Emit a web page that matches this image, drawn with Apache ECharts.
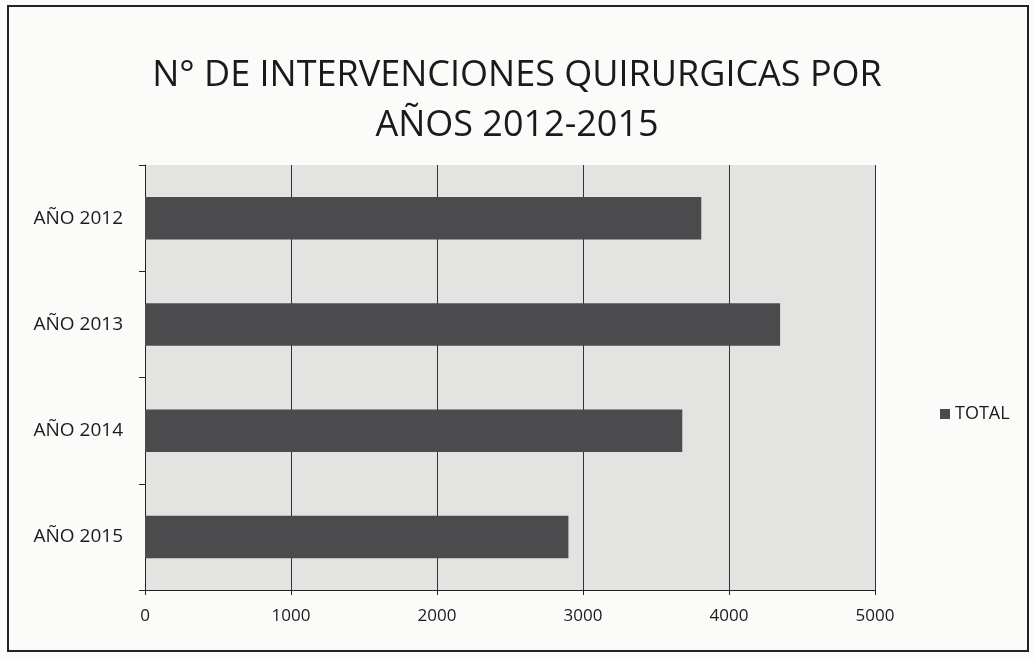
<!DOCTYPE html>
<html>
<head>
<meta charset="utf-8">
<script src="https://cdn.jsdelivr.net/npm/echarts@6/dist/echarts.min.js"></script>
<style>
  html, body { margin: 0; padding: 0; background: #fbfbfa; }
  #main { width: 1034px; height: 659px; }
</style>
</head>
<body>
<div id="main"></div>
<script>
// datos
const years = ['AÑO 2012', 'AÑO 2013', 'AÑO 2014', 'AÑO 2015']
const total = [3810, 4350, 3680, 2900]
const seriesName = 'TOTAL'

let myChart = echarts.init(document.getElementById('main'))

const font = '"Open Sans", "Liberation Sans", sans-serif'

const option = {
  backgroundColor: '#fbfbfa',
  title: {
    text: 'N° DE INTERVENCIONES QUIRURGICAS POR\nAÑOS 2012-2015',
    left: 'center',
    top: 46,
    textStyle: {
      fontFamily: font,
      fontSize: 36,
      fontWeight: 'normal',
      color: '#1a1a1a',
      lineHeight: 50
    }
  },
  legend: {
    data: [seriesName],
    left: 935,
    top: 400,
    icon: 'rect',
    itemWidth: 10,
    itemHeight: 10,
    itemGap: 6,
    textStyle: { fontFamily: font, fontSize: 18, color: '#1a1a1a' }
  },
  grid: {
    left: 145,
    right: 159,
    top: 165,
    bottom: 69,
    show: true,
    backgroundColor: '#e3e3e1',
    borderWidth: 0
  },
  xAxis: {
    type: 'value',
    min: 0,
    max: 5000,
    interval: 1000,
    axisLine: { show: true, lineStyle: { color: '#222', width: 1 } },
    axisTick: { show: true, length: 5, lineStyle: { color: '#222' } },
    axisLabel: {
      fontFamily: font, fontSize: 17, color: '#1a1a1a', margin: 18,
      formatter: function(v) { return String(v) }
    },
    splitLine: { show: true, lineStyle: { color: '#333', width: 1 } }
  },
  yAxis: {
    type: 'category',
    data: years,
    inverse: true,
    axisLine: { show: true, lineStyle: { color: '#222', width: 1 } },
    axisTick: { show: true, length: 6, lineStyle: { color: '#222' } },
    axisLabel: { fontFamily: font, fontSize: 19, color: '#1a1a1a', margin: 22 },
    splitLine: { show: false }
  },
  series: [{
    name: seriesName,
    type: 'bar',
    data: total,
    barCategoryGap: '60%',
    itemStyle: { color: '#4b4a4c' }
  }],
  graphic: [{
    type: 'rect',
    shape: { x: 8, y: 6, width: 1020, height: 645 },
    style: { fill: 'none', stroke: '#222', lineWidth: 2 },
    silent: true
  }]
}

myChart.setOption(option)
</script>
</body>
</html>
